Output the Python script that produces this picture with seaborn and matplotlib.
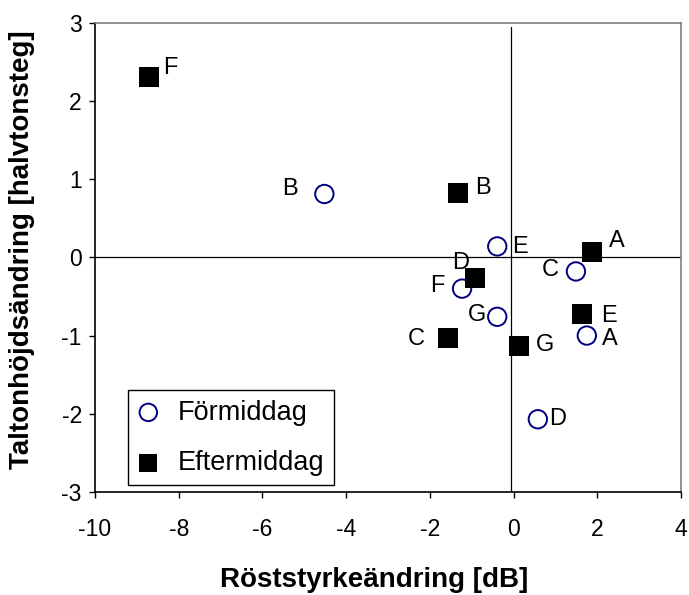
import matplotlib
matplotlib.use("Agg")
import matplotlib.pyplot as plt
import seaborn as sns
import pandas as pd

# ---- data ----
punkter = ["A", "B", "C", "D", "E", "F", "G"]
formiddag_x = [1.75, -4.52, 1.49, 0.58, -0.39, -1.23, -0.39]
formiddag_y = [-1.00, 0.81, -0.18, -2.07, 0.14, -0.40, -0.76]
eftermiddag_x = [1.88, -1.32, -1.56, -0.93, 1.64, -8.70, 0.14]
eftermiddag_y = [0.07, 0.82, -1.03, -0.27, -0.72, 2.31, -1.13]
serier = ["Förmiddag", "Eftermiddag"]
x_ticks = [-10, -8, -6, -4, -2, 0, 2, 4]
y_ticks = [-3, -2, -1, 0, 1, 2, 3]
x_label = "Röststyrkeändring [dB]"
y_label = "Taltonhöjdsändring [halvtonsteg]"

df = pd.DataFrame({
    "x": formiddag_x + eftermiddag_x,
    "y": formiddag_y + eftermiddag_y,
    "tid": [serier[0]] * len(punkter) + [serier[1]] * len(punkter),
    "punkt": punkter + punkter,
})

sns.set_theme(style="white")
plt.rcParams["font.family"] = ["Liberation Sans", "DejaVu Sans"]
plt.rcParams["axes.unicode_minus"] = False
plt.rcParams["text.color"] = "black"
plt.rcParams["axes.labelcolor"] = "black"

fig = plt.figure(figsize=(6.89, 5.95), dpi=100)
ax = fig.add_axes([95 / 689, 1 - 492 / 595, 586 / 689, (492 - 22.7) / 595])

# reference lines
ax.axhline(0, color="black", lw=0.9, zorder=1)
ax.axvline(-0.07, ymax=0.991, color="black", lw=0.9, zorder=1)

fm = df[df["tid"] == serier[0]]
em = df[df["tid"] == serier[1]]
sns.scatterplot(data=fm, x="x", y="y", ax=ax, marker="o", s=175,
                color="#000080", facecolor="none", edgecolor="#000080",
                linewidth=1.4, label=serier[0], zorder=3)
sns.scatterplot(data=em, x="x", y="y", ax=ax, marker="s", s=205,
                color="black", edgecolor="black", linewidth=0,
                label=serier[1], zorder=3)

# point labels (offsets in pixels)
offs = {
    serier[0]: {"A": (23, -3), "B": (-34, 5), "C": (-26, 1), "D": (20, 0),
                "E": (23, -1), "F": (-25, 3), "G": (-20, 2)},
    serier[1]: {"A": (25, 11), "B": (25, 5), "C": (-32, -1), "D": (-14, 15),
                "E": (27, -2), "F": (21, 9), "G": (26, 1)},
}
for _, r in df.iterrows():
    dx, dy = offs[r["tid"]][r["punkt"]]
    ax.annotate(r["punkt"], (r["x"], r["y"]), xytext=(dx, dy),
                textcoords="offset pixels", ha="center", va="center",
                fontsize=17, color="black", zorder=4)

ax.set_xlim(-10, 4)
ax.set_ylim(-3, 3)
ax.set_xticks(x_ticks)
ax.set_yticks(y_ticks)
ax.tick_params(axis="both", direction="out", length=4.5, width=1.0,
               color="black", labelsize=16.5, labelcolor="black")
ax.tick_params(axis="x", pad=14, bottom=True)
ax.tick_params(axis="y", pad=5, left=True)

for side in ["left", "bottom"]:
    ax.spines[side].set_color("black")
    ax.spines[side].set_linewidth(1.2)
for side in ["top", "right"]:
    ax.spines[side].set_color("#808080")
    ax.spines[side].set_linewidth(1.2)

ax.set_xlabel(x_label, fontsize=20, fontweight="bold", va="center",
              color="black")
ax.xaxis.set_label_coords(0.476, -0.1875)
ax.set_ylabel(y_label, fontsize=20, fontweight="bold", va="center",
              color="black")
ax.yaxis.set_label_coords(-0.1246, 0.516)

leg = ax.legend(loc="upper left", bbox_to_anchor=(0.0563, 0.2173),
                borderaxespad=0, frameon=True, fancybox=False, shadow=False,
                fontsize=19.5, markerscale=0.95, handlelength=0.8,
                handletextpad=0.7, borderpad=0.35, labelspacing=0.9,
                framealpha=1, edgecolor="black", facecolor="white")
leg.get_frame().set_linewidth(1.0)
for t in leg.get_texts():
    t.set_color("black")

fig.savefig("out.png", dpi=100)
